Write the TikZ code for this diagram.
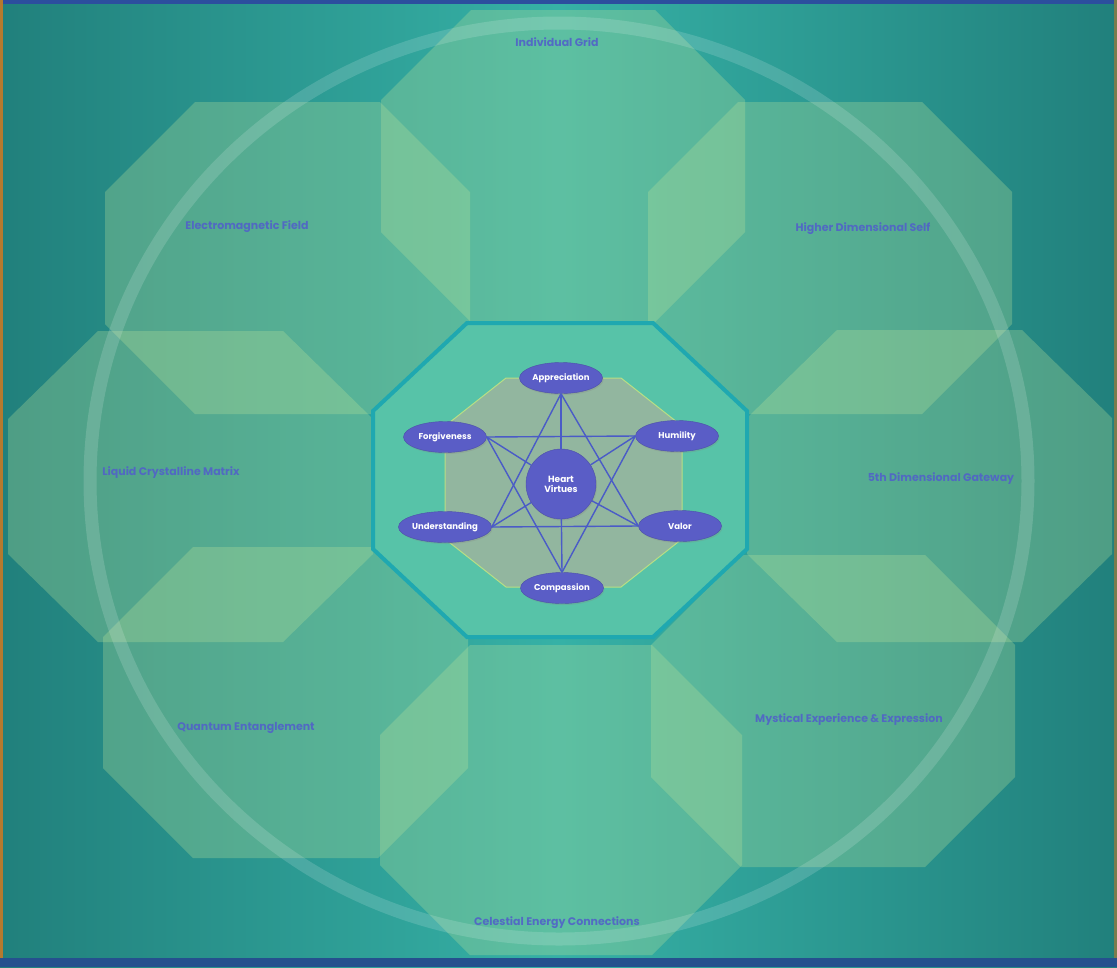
\documentclass[tikz,border=0pt]{standalone}
\usepackage{fontspec}
\setmainfont{Poppins}
\usetikzlibrary{shapes.geometric,shadows}
\definecolor{bgL}{HTML}{21807C}
\definecolor{bgM}{HTML}{36B1A6}
\definecolor{octfill}{HTML}{B9E29A}
\definecolor{cenfill}{HTML}{57C3A8}
\definecolor{cenline}{HTML}{1FA8B0}
\definecolor{innfill}{HTML}{92B69F}
\definecolor{innline}{HTML}{B8DF84}
\definecolor{nodeblue}{HTML}{5A5DC6}
\definecolor{edgeblue}{HTML}{4A5BC7}
\definecolor{lblblue}{HTML}{5162C8}
\definecolor{topblue}{HTML}{2C4E9E}
\definecolor{botblue}{HTML}{25508E}
\definecolor{orangeedge}{HTML}{B57A2E}
\newcommand\octagonshape[7]{\path[#1] (#2+#6,#3) -- (#4-#6,#3) -- (#4,#3+#7) -- (#4,#5-#7) -- (#4-#6,#5) -- (#2+#6,#5) -- (#2,#5-#7) -- (#2,#3+#7) -- cycle;}
\tikzset{
  outeroct/.style={fill=octfill,fill opacity=0.3},
  lbl/.style={text=lblblue,text opacity=0.9,font=\bfseries\fontsize{11}{13}\selectfont,inner sep=1pt},
  virtue/.style={ellipse,fill=nodeblue,draw=nodeblue!85!black,line width=0.4pt,minimum width=83,minimum height=31,inner sep=0pt,text=white,font=\bfseries\fontsize{8.5}{10}\selectfont,drop shadow={opacity=0.25,shadow xshift=1pt,shadow yshift=-1.5pt}},
  hub/.style={circle,fill=nodeblue,draw=nodeblue!85!black,line width=0.4pt,minimum size=70,inner sep=0pt,text=white,align=center,font=\bfseries\fontsize{9}{10}\selectfont,drop shadow={opacity=0.25,shadow xshift=1pt,shadow yshift=-1.5pt}},
  link/.style={draw=edgeblue,line width=1.4pt}
}
\begin{document}
\begin{tikzpicture}[x=1pt,y=-1pt]
\useasboundingbox (0,0) rectangle (1117,967);
% background
\shade[left color=bgL,right color=bgL,middle color=bgM] (0,0) rectangle (1117,967);
% outer octagons
\octagonshape{outeroct}{381}{10}{745}{322}{90}{90}
\octagonshape{outeroct}{105}{102}{470}{414}{90}{90}
\octagonshape{outeroct}{8}{331}{373}{642}{90}{88}
\octagonshape{outeroct}{103}{547}{468}{858}{90}{90}
\octagonshape{outeroct}{380}{645}{742}{955}{90}{90}
\octagonshape{outeroct}{651}{555}{1015}{867}{90}{90}
\octagonshape{outeroct}{747}{330}{1112}{642}{90}{88}
\octagonshape{outeroct}{648}{102}{1012}{414}{90}{90}
% centre octagon
\octagonshape{fill=cenfill,draw=cenline,line width=4pt,line join=miter}{373}{323}{747}{637}{94}{88}
\octagonshape{fill=innfill,draw=innline,line width=1pt}{445}{378}{682}{587}{61}{48}
% ring
\draw[white,opacity=0.15,line width=13pt] (559,481) ellipse [x radius=469,y radius=458];
% labels
\node[lbl] (grid) at (557,42) {Individual Grid};
\node[lbl] (emf) at (247,227) {Electromagnetic Field};
\node[lbl] (hds) at (863,229) {Higher Dimensional Self};
\node[lbl] (lcm) at (171,473) {Liquid Crystalline Matrix};
\node[lbl] (fdg) at (941,479) {5th Dimensional Gateway};
\node[lbl] (qe) at (246,728) {Quantum Entanglement};
\node[lbl] (mee) at (849,720) {Mystical Experience \& Expression};
\node[lbl] (cec) at (557,923) {Celestial Energy Connections};
% virtues
\node[hub] (heart) at (561,484) {Heart\\Virtues};
\node[virtue] (app) at (561,378) {Appreciation};
\node[virtue] (forg) at (445,437) {Forgiveness};
\node[virtue] (hum) at (677,436) {Humility};
\node[virtue] (und) at (445,527) {Understanding};
\node[virtue] (val) at (680,526) {Valor};
\node[virtue] (comp) at (562,588) {Compassion};
% links
\draw[link] (app.south) -- (und.east);
\draw[link] (app.south) -- (val.west);
\draw[link] (und.east) -- (val.west);
\draw[link] (forg.east) -- (hum.west);
\draw[link] (forg.east) -- (comp.north);
\draw[link] (hum.west) -- (comp.north);
\draw[link] (heart) -- (app.south);
\draw[link] (heart) -- (comp.north);
\draw[link] (heart) -- (forg.east);
\draw[link] (heart) -- (hum.west);
\draw[link] (heart) -- (und.east);
\draw[link] (heart) -- (val.west);
% frame edges
\fill[topblue] (0,0) rectangle (1117,4);
\fill[orangeedge] (0,0) rectangle (3,967);
\fill[orangeedge!60!bgL] (1114,0) rectangle (1117,967);
\fill[botblue] (0,958) rectangle (1117,967);
\end{tikzpicture}
\end{document}
